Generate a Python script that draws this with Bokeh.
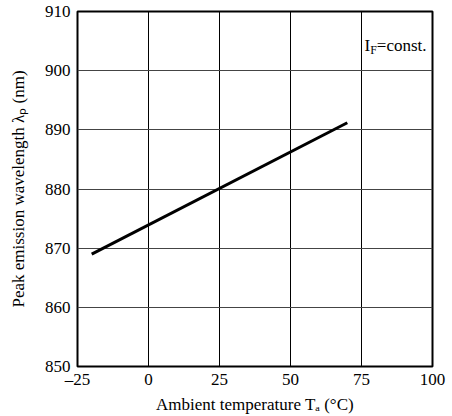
import math
from bokeh.plotting import figure
from bokeh.models import Range1d, FixedTicker, Label
from bokeh.embed import file_html
from bokeh.resources import INLINE

# ---- data ----
temp_c = [-20, 70]
peak_nm = [869.0, 891.2]
x_ticks = [-25, 0, 25, 50, 75, 100]
x_tick_labels = ["\u201325", "0", "25", "50", "75", "100"]
y_ticks = [850, 860, 870, 880, 890, 900, 910]
y_tick_labels = ["850", "860", "870", "880", "890", "900", "910"]
x_title = "Ambient temperature T\u2090 (\u00b0C)"
y_title = "Peak emission wavelength \u03bb\u209a (nm)"

FONT = "Liberation Serif"
FS = 17      # main font size (px)
SUB = 12     # subscript font size (px)

# Times / Liberation Serif advance widths (1/1000 em)
W = {"F": 556, "I": 333, "=": 564, ".": 250, "c": 444, "o": 500, "n": 500, "s": 389, "t": 278}


def text_w(s, size):
    return sum(W.get(ch, 500) for ch in s) / 1000.0 * size


p = figure(width=452, height=416,
           x_range=Range1d(-25, 100), y_range=Range1d(850, 910),
           output_backend="svg", toolbar_location=None,
           min_border_left=77, min_border_right=20, min_border_top=11, min_border_bottom=50,
           background_fill_color="white", border_fill_color="white")

p.outline_line_color = "black"
p.outline_line_width = 2

p.xaxis.ticker = FixedTicker(ticks=x_ticks)
p.yaxis.ticker = FixedTicker(ticks=y_ticks)
p.xaxis.major_label_overrides = {t: s for t, s in zip(x_ticks, x_tick_labels)}
p.yaxis.major_label_overrides = {t: s for t, s in zip(y_ticks, y_tick_labels)}
p.xaxis.axis_label = x_title
p.yaxis.axis_label = y_title

for ax in (p.xaxis[0], p.yaxis[0]):
    ax.axis_line_color = None
    ax.major_tick_line_color = None
    ax.minor_tick_line_color = None
    ax.major_tick_in = 0
    ax.major_tick_out = 0
    ax.major_label_text_font = FONT
    ax.major_label_text_font_size = f"{FS}px"
    ax.major_label_text_color = "black"
    ax.axis_label_text_font = FONT
    ax.axis_label_text_font_size = f"{FS}px"
    ax.axis_label_text_font_style = "normal"
    ax.axis_label_text_color = "black"
p.xaxis.major_label_standoff = 3
p.yaxis.major_label_standoff = 7
p.xaxis.axis_label_standoff = 3
p.yaxis.axis_label_standoff = 14

p.xgrid.grid_line_color = "black"
p.xgrid.grid_line_width = 1
p.ygrid.grid_line_color = "#444444"
p.ygrid.grid_line_width = 1

p.line(temp_c, peak_nm, line_color="black", line_width=3)


def add_label(x, y, text, size):
    p.add_layout(Label(x=x, y=y, x_units="screen", y_units="screen", text=text,
                       text_font=FONT, text_font_size=f"{size}px", text_color="black",
                       text_align="left", text_baseline="alphabetic"))


# in-plot note: I_F=const.  (screen units relative to frame bottom-left)
parts_n = [("I", FS, 0), ("F", SUB, -4), ("=const.", FS, 0)]
nx = 287
for t, s, dy in parts_n:
    add_label(nx, 321 + dy, t, s)
    nx += text_w(t, s)

open("out.html", "w").write(file_html(p, INLINE))
